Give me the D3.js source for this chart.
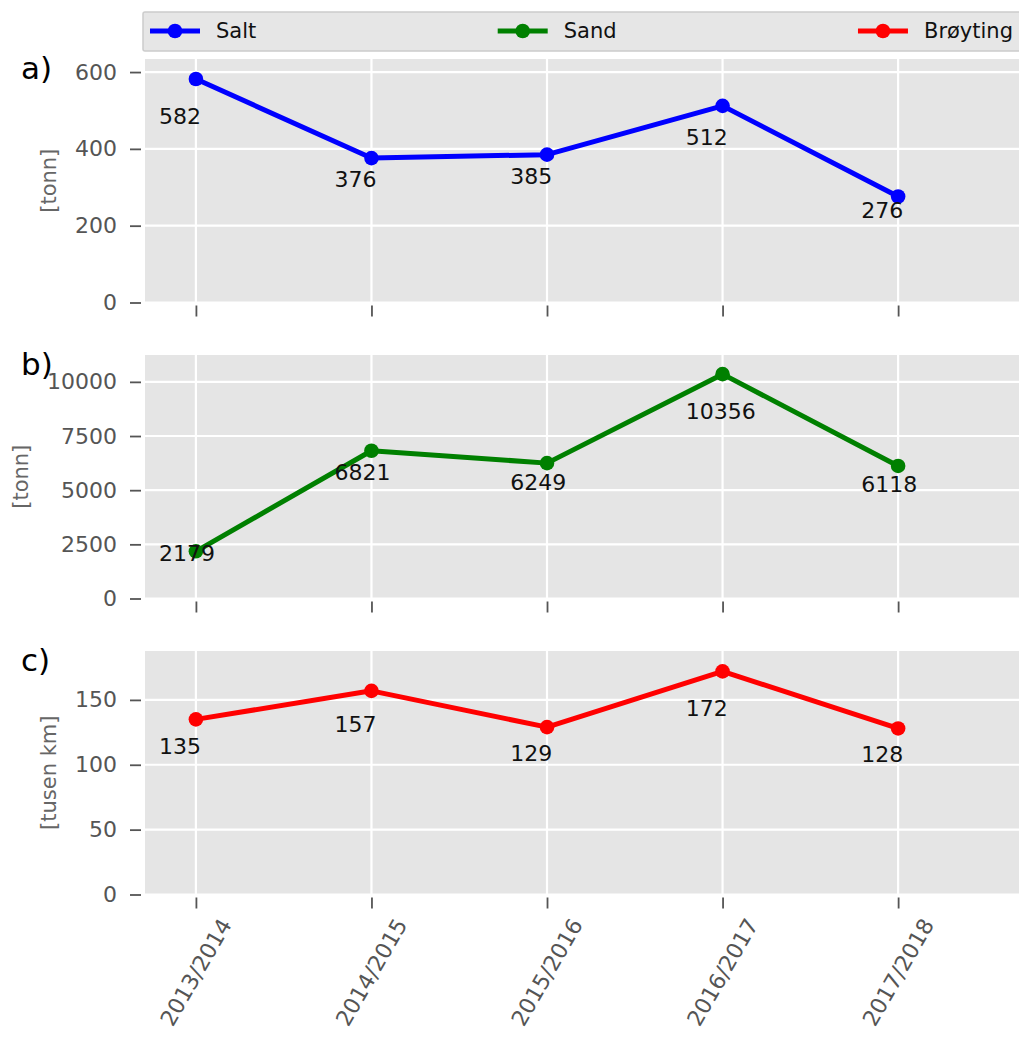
<!DOCTYPE html>
<html>
<head>
<meta charset="utf-8">
<script src="https://cdn.jsdelivr.net/npm/d3@7"></script>
<style>
  html, body { margin: 0; padding: 0; background: #ffffff; }
  svg { display: block; font-family: "DejaVu Sans", sans-serif; }
</style>
</head>
<body>
<svg id="chart" width="1019" height="1037"></svg>
<script>
// ---- data ----
const categories = ["2013/2014", "2014/2015", "2015/2016", "2016/2017", "2017/2018"];
const seriesNames = ["Salt", "Sand", "Brøyting"];
const saltValues = [582, 376, 385, 512, 276];
const sandValues = [2179, 6821, 6249, 10356, 6118];
const broytingValues = [135, 157, 129, 172, 128];
const saltTicks = [0, 200, 400, 600];
const sandTicks = [0, 2500, 5000, 7500, 10000];
const broytingTicks = [0, 50, 100, 150];
const yTop = [634, 11240, 187.7];
const panelLetters = ["a)", "b)", "c)"];
const unitLabels = ["[tonn]", "[tonn]", "[tusen km]"];

// ---- layout / style ----
const colors = ["#0000ff", "#008000", "#ff0000"];
const panelTops = [59, 355, 651];
const panelH = 243.5;
const plotLeft = 145, plotRight = 1021;
const tickGray = "#555555";
const lineW = 5, markR = 7.3;

const svg = d3.select("#chart");
const x = d3.scaleLinear().domain([-0.29, 4.7]).range([plotLeft, plotRight]);

const panels = [
  { values: saltValues, ticks: saltTicks },
  { values: sandValues, ticks: sandTicks },
  { values: broytingValues, ticks: broytingTicks }
];

panels.forEach((p, k) => {
  const top = panelTops[k], bottom = top + panelH;
  const y = d3.scaleLinear().domain([0, yTop[k]]).range([bottom, top]);
  const g = svg.append("g");

  // background
  g.append("rect").attr("x", plotLeft).attr("y", top)
    .attr("width", plotRight - plotLeft).attr("height", panelH).attr("fill", "#e5e5e5");

  // grid
  g.selectAll(".hg").data(p.ticks).enter().append("line")
    .attr("x1", plotLeft).attr("x2", plotRight)
    .attr("y1", d => y(d)).attr("y2", d => y(d))
    .attr("stroke", "#ffffff").attr("stroke-width", 2.2);
  g.selectAll(".vg").data(categories).enter().append("line")
    .attr("x1", (d, i) => x(i)).attr("x2", (d, i) => x(i))
    .attr("y1", top).attr("y2", bottom)
    .attr("stroke", "#ffffff").attr("stroke-width", 2.2);

  // y axis
  const ya = g.append("g").attr("transform", `translate(${plotLeft - 4},0)`)
    .call(d3.axisLeft(y).tickValues(p.ticks).tickSize(11).tickPadding(13).tickFormat(d3.format("d")));
  ya.select(".domain").remove();
  ya.selectAll(".tick line").attr("stroke", tickGray).attr("stroke-width", 1.8);
  ya.selectAll(".tick text").attr("fill", tickGray).attr("font-size", 22)
    .attr("font-family", "DejaVu Sans");

  // x axis ticks
  const xa = g.append("g").attr("transform", `translate(0,${bottom + 3})`)
    .call(d3.axisBottom(x).tickValues(d3.range(categories.length)).tickSize(11).tickFormat(""));
  xa.select(".domain").remove();
  xa.selectAll(".tick line").attr("stroke", tickGray).attr("stroke-width", 1.8);

  // y label, placed left of the widest tick label
  let minLeft = Infinity;
  ya.selectAll(".tick text").each(function () {
    const b = this.getBBox();
    const m = this.getCTM();
    minLeft = Math.min(minLeft, b.x + m.e);
  });
  const lx = minLeft - 26;
  g.append("text")
    .attr("transform", `translate(${lx},${(top + bottom) / 2}) rotate(-90)`)
    .attr("text-anchor", "middle").attr("dy", "0.32em")
    .attr("font-size", 21).attr("fill", "#666666")
    .text(unitLabels[k]);

  // panel letter
  g.append("text").attr("x", 21).attr("y", top + 20)
    .attr("font-size", 31).attr("fill", "#000")
    .text(panelLetters[k]);

  // line + markers
  const line = d3.line().x((d, i) => x(i)).y(d => y(d));
  g.append("path").datum(p.values).attr("d", line)
    .attr("fill", "none").attr("stroke", colors[k]).attr("stroke-width", lineW)
    .attr("stroke-linejoin", "round");
  g.selectAll(".pt").data(p.values).enter().append("circle")
    .attr("cx", (d, i) => x(i)).attr("cy", d => y(d)).attr("r", markR)
    .attr("fill", colors[k]);

  // data labels
  g.selectAll(".lbl").data(p.values).enter().append("text")
    .attr("x", (d, i) => x(i - 0.21)).attr("y", d => y(d * 0.8))
    .attr("font-size", 22).attr("fill", "#111")
    .text(d => d);

  // category labels on bottom panel
  if (k === panels.length - 1) {
    const lg = g.append("g");
    categories.forEach((c, i) => {
      const t = lg.append("text").attr("font-size", 22).attr("fill", tickGray)
        .attr("text-anchor", "end").attr("dy", "0.35em").text(c);
      const L = t.node().getComputedTextLength();
      const h = 16;
      const px = x(i) + 0.25 * L;
      const py = bottom + 22 + h / 4;
      t.attr("transform", `translate(${px},${py}) rotate(-60)`);
    });
  }
});

// ---- legend ----
const leg = svg.append("g");
leg.append("rect").attr("x", 143).attr("y", 12).attr("width", 900).attr("height", 39)
  .attr("fill", "#e6e6e6").attr("stroke", "#cccccc").attr("stroke-width", 1.5).attr("rx", 2);
const items = seriesNames.map((n, k) => {
  const t = leg.append("text").attr("font-size", 21).attr("fill", "#111")
    .attr("dy", "0.35em").attr("y", 31).text(n);
  return { t, w: 66 + t.node().getComputedTextLength(), k };
});
const legLeft = 150, legRight = 1013;
const gap = (legRight - legLeft - d3.sum(items, d => d.w)) / (items.length - 1);
let cx = legLeft;
items.forEach(it => {
  leg.append("line").attr("x1", cx).attr("x2", cx + 50).attr("y1", 31).attr("y2", 31)
    .attr("stroke", colors[it.k]).attr("stroke-width", lineW);
  leg.append("circle").attr("cx", cx + 25).attr("cy", 31).attr("r", markR).attr("fill", colors[it.k]);
  it.t.attr("x", cx + 66);
  cx += it.w + gap;
});
</script>
</body>
</html>
